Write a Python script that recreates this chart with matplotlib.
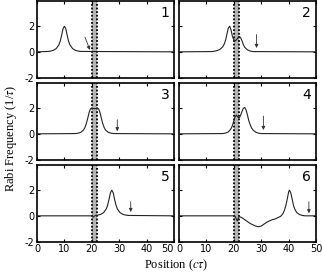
import matplotlib

matplotlib.use("Agg")
import matplotlib.pyplot as plt

plt.rcParams["axes.unicode_minus"] = False
plt.rcParams["mathtext.fontset"] = "stix"

# pulse profiles (position in c*tau, Rabi frequency in 1/tau)
X1 = [0, 4, 5, 6, 7, 8, 8.5, 9, 9.5, 10, 10.5, 11, 11.5, 12, 13, 14, 15, 16, 50]
Y1 = [0, 0.03, 0.06, 0.12, 0.25, 0.55, 0.85, 1.3, 1.8, 2.0, 1.8, 1.3, 0.85, 0.55, 0.25, 0.12, 0.06, 0.03, 0]

X2 = [0, 12, 13, 14, 15, 16, 16.5, 17, 17.5, 18, 18.5, 19, 19.5, 20, 20.5, 21, 21.5, 22, 22.5, 23, 23.5, 24, 25, 26, 27, 50]
Y2 = [0, 0.02, 0.05, 0.1, 0.2, 0.4, 0.6, 0.9, 1.4, 1.85, 2.0, 1.7, 1.2, 0.95, 0.85, 0.95, 1.1, 1.2, 1.1, 0.85, 0.55, 0.35, 0.15, 0.06, 0.02, 0]

X3 = [0, 14, 15, 16, 17, 17.5, 18, 18.5, 19, 19.5, 20, 21, 22, 22.5, 23, 23.5, 24, 24.5, 25, 26, 27, 28, 50]
Y3 = [0, 0.02, 0.05, 0.12, 0.3, 0.5, 0.8, 1.2, 1.65, 1.95, 2.0, 1.95, 2.0, 1.95, 1.65, 1.2, 0.8, 0.5, 0.3, 0.12, 0.05, 0.02, 0]

X4 = [0, 16, 17, 18, 19, 19.5, 20, 20.5, 21, 21.5, 22, 22.5, 23, 23.5, 24, 24.5, 25, 25.5, 26, 26.5, 27, 28, 29, 30, 50]
Y4 = [0, 0.02, 0.06, 0.15, 0.4, 0.65, 1.0, 1.35, 1.45, 1.3, 1.25, 1.45, 1.75, 2.0, 2.05, 1.85, 1.45, 1.0, 0.7, 0.45, 0.3, 0.13, 0.05, 0.02, 0]

X5 = [0, 19.8, 20.5, 21.3, 22.3, 23.3, 24.3, 25.3, 25.8, 26.3, 26.8, 27.3, 27.8, 28.3, 28.8, 29.3, 30.3, 31.3, 32.3, 33.3, 50]
Y5 = [0, 0, -0.1, 0.03, 0.06, 0.12, 0.25, 0.55, 0.85, 1.3, 1.8, 2.0, 1.8, 1.3, 0.85, 0.55, 0.25, 0.12, 0.06, 0.03, 0]

X6 = [0, 20, 20.5, 21, 21.3, 21.7, 22, 23, 24, 25, 26, 27, 28, 29, 30, 31, 32, 33, 34, 35, 36, 37, 37.5, 38, 38.5,
      39, 39.5, 40, 40.3, 40.8, 41.3, 41.8, 42.3, 43, 44, 45, 46, 50]
Y6 = [0, 0, -0.05, -0.3, -0.4, -0.15, -0.05, -0.15, -0.3, -0.45, -0.6, -0.7, -0.8, -0.85, -0.8, -0.65, -0.5, -0.4,
      -0.3, -0.25, -0.15, -0.05, 0.05, 0.2, 0.45, 0.8, 1.3, 1.85, 2.0, 1.8, 1.3, 0.8, 0.5, 0.25, 0.1, 0.03, 0, 0]

CURVES = [(X1, Y1), (X2, Y2), (X3, Y3), (X4, Y4), (X5, Y5), (X6, Y6)]

# arrows: (tail x, tail y, tip x, tip y)
ARROWS = [
    (17.5, 1.15, 19.3, 0.15),
    (28.3, 1.35, 28.3, 0.3),
    (29.3, 1.1, 29.3, 0.2),
    (30.8, 1.38, 30.8, 0.3),
    (34.2, 1.1, 34.2, 0.3),
    (47.4, 1.1, 47.4, 0.2),
]

BAND = (20, 22)
XTICKS = [0, 10, 20, 30, 40, 50]
YTICKS = [-2, 0, 2]

W, H = 322, 277
fig = plt.figure(figsize=(W / 100, H / 100), dpi=100)

col_x = [37, 179]
col_w = 137
row_top = [0.5, 82.5, 164.5]
row_h = 77

for i, (xs, ys) in enumerate(CURVES):
    r, c = divmod(i, 2)
    ax = fig.add_axes([col_x[c] / W, (H - row_top[r] - row_h) / H, col_w / W, row_h / H])
    ax.axvspan(BAND[0], BAND[1], color="#b4b4b4", lw=0, zorder=1)
    for b in BAND:
        ax.axvline(b, color="black", ls=(0, (1, 1)), lw=1.3, zorder=2)
    ax.plot(xs, ys, color="#222222", lw=0.8, zorder=3)
    tx, ty, hx, hy = ARROWS[i]
    ax.annotate("", xy=(hx, hy), xytext=(tx, ty),
                arrowprops=dict(arrowstyle="-|>", lw=0.6, color="#333333", mutation_scale=5,
                                shrinkA=0, shrinkB=0))
    ax.text(0.965, 0.93, str(i + 1), transform=ax.transAxes, ha="right", va="top", fontsize=10,
            family="DejaVu Sans")
    ax.set_xlim(0, 50)
    ax.set_ylim(-2, 4)
    ax.set_xticks(XTICKS)
    ax.set_yticks(YTICKS)
    ax.tick_params(direction="in", top=True, right=True, length=2.5, width=0.8, labelsize=7, pad=2)
    for s in ax.spines.values():
        s.set_linewidth(1.2)
    if r < 2:
        ax.set_xticklabels([])
    elif c == 0:
        # keep the left panel's "50" clear of the right panel's "0"
        ax.get_xticklabels()[-1].set_horizontalalignment("right")
    if c == 1:
        ax.set_yticklabels([])

fig.text(0.035, 0.5, r"Rabi Frequency (1/$\tau$)", rotation=90, ha="center", va="center",
         fontsize=9, family="Liberation Serif")
fig.text(176 / W, 1 - 265 / H, r"Position ($c\tau$)", ha="center", va="center",
         fontsize=9, family="Liberation Serif")

fig.savefig("out.png", dpi=100)
